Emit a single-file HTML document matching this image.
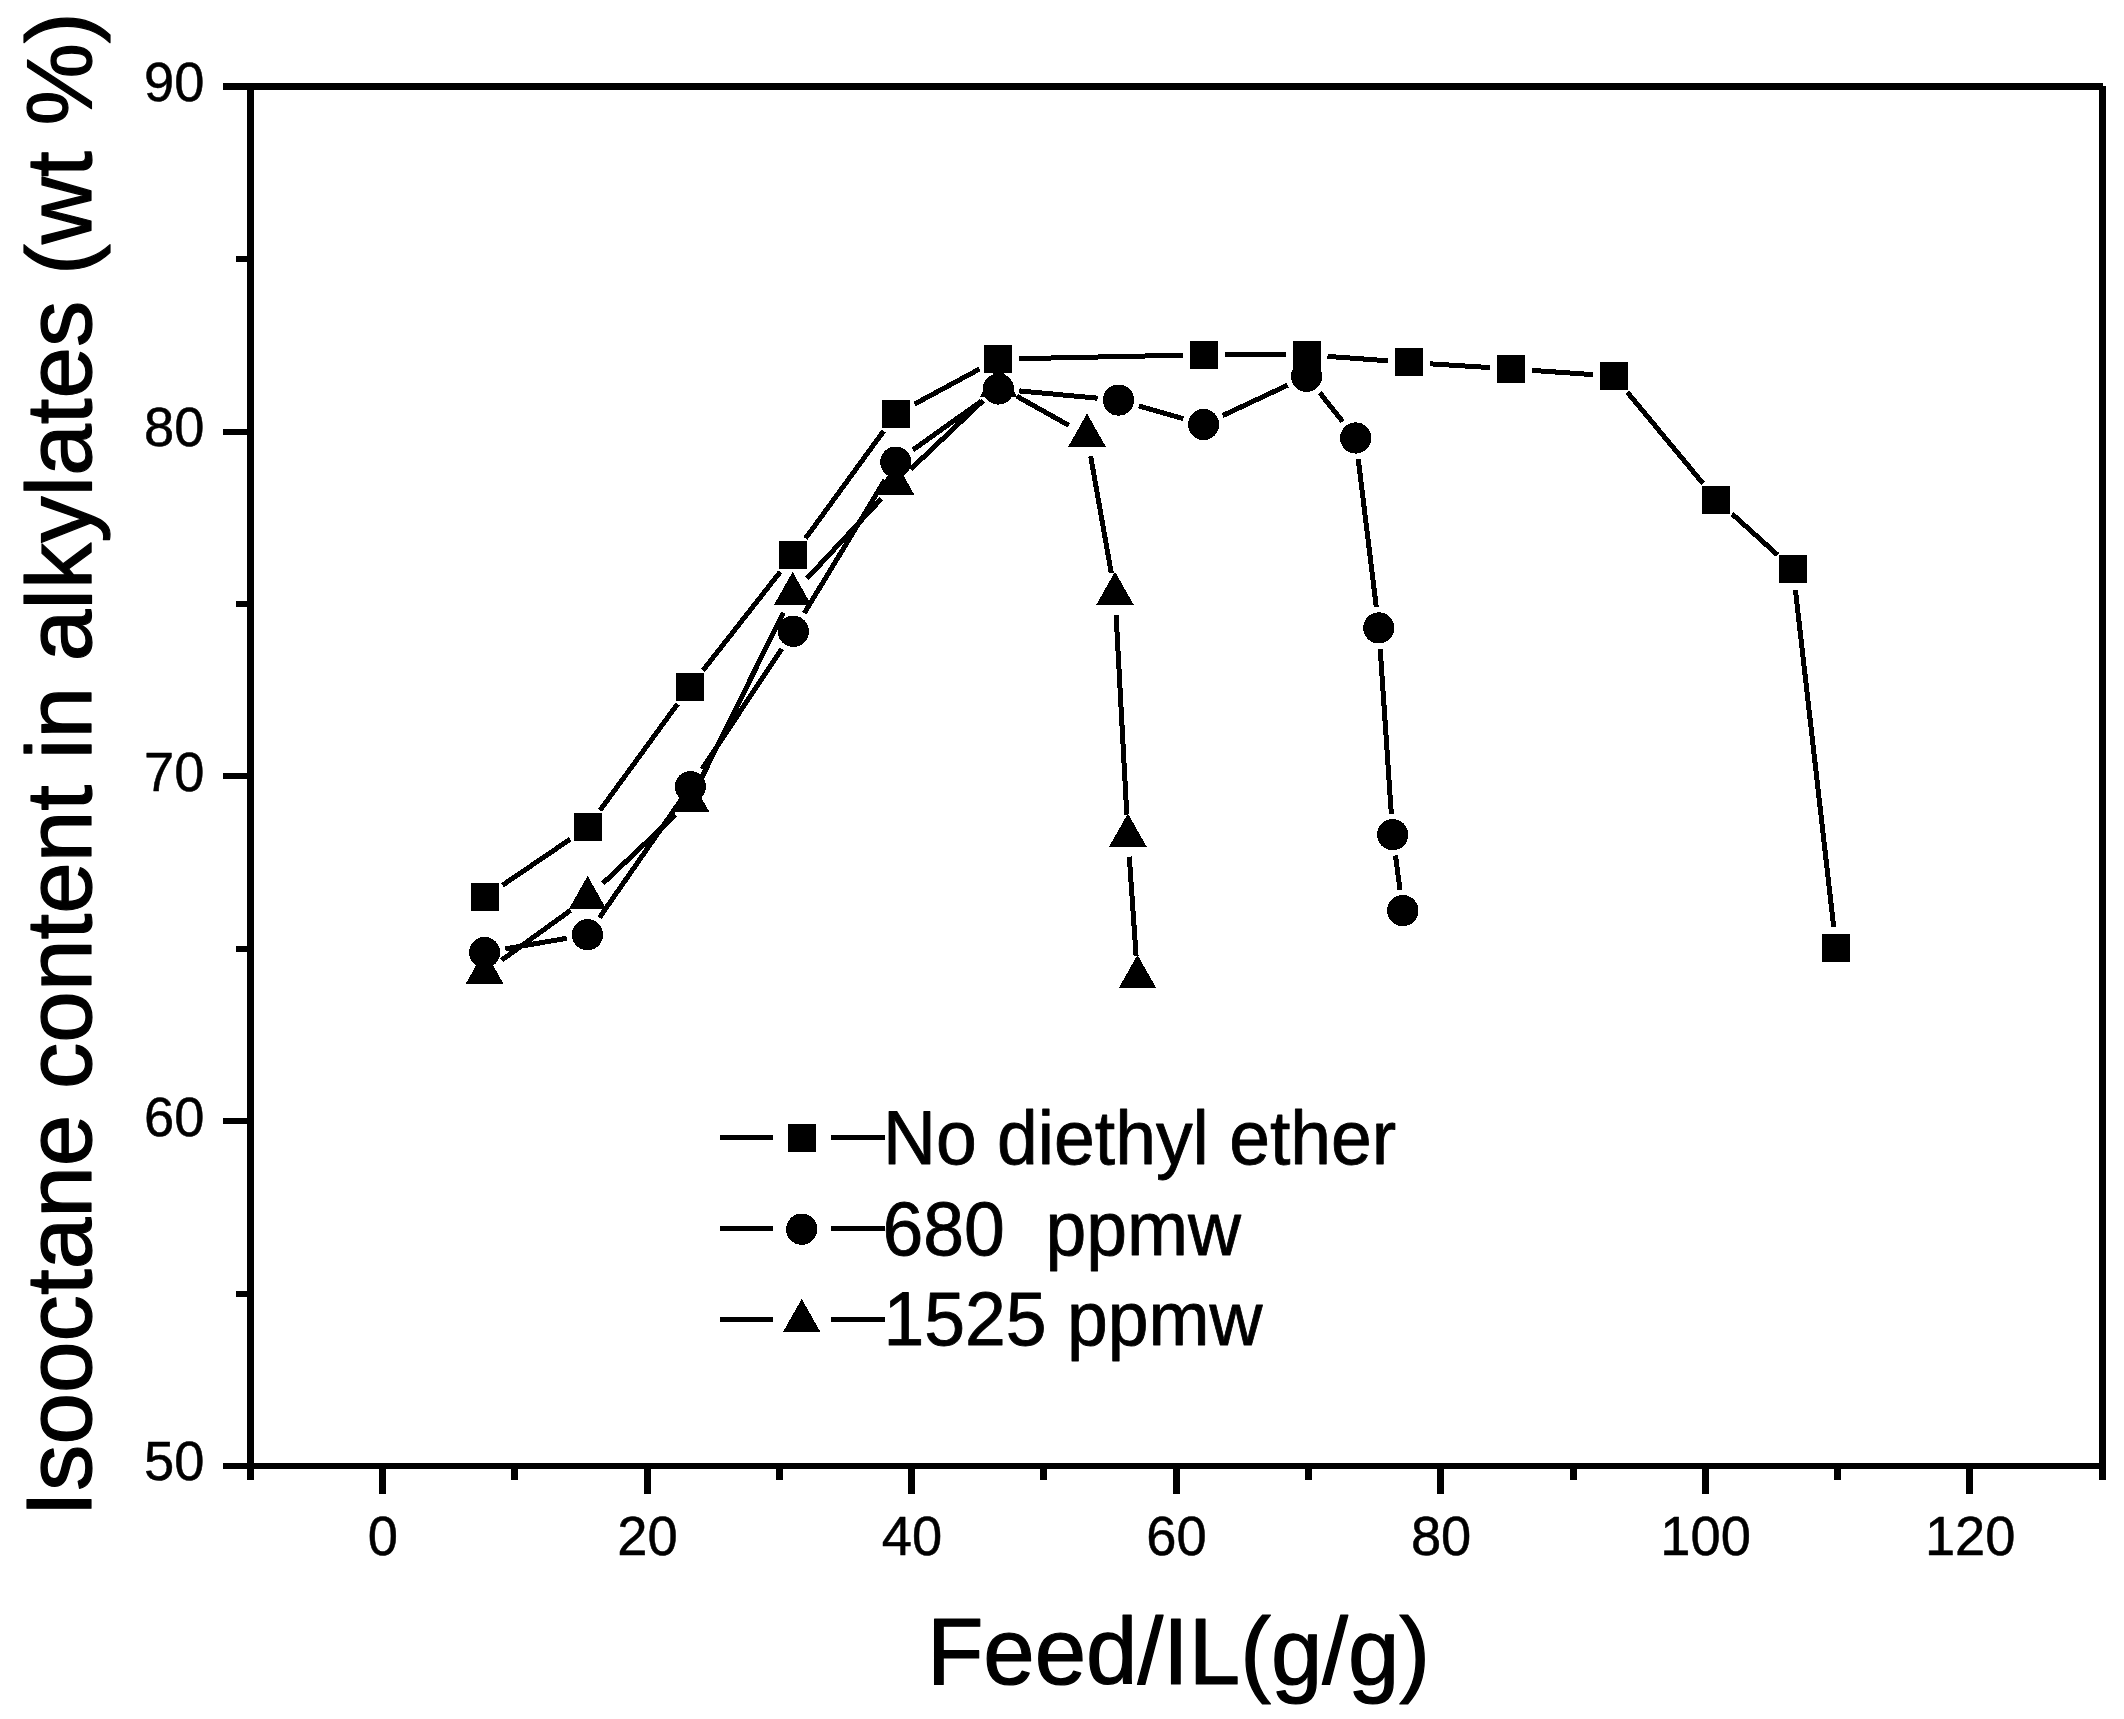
<!DOCTYPE html>
<html lang="en"><head><meta charset="utf-8"><title>Isooctane content in alkylates vs Feed/IL</title>
<style>html,body{margin:0;padding:0;background:#fff}body{width:2124px;height:1719px;overflow:hidden}</style></head>
<body>
<svg width="2124" height="1719" viewBox="0 0 2124 1719" style="display:block">
<rect width="2124" height="1719" fill="#fff"/>
<g fill="#000" shape-rendering="crispEdges">
<rect x="223" y="83" width="1880" height="7"/>
<rect x="223" y="1463" width="1883" height="6"/>
<rect x="247" y="83" width="7" height="1397"/>
<rect x="2099" y="86" width="7" height="1394"/>
<rect x="223" y="1118" width="25" height="6"/>
<rect x="223" y="773" width="25" height="6"/>
<rect x="223" y="429" width="25" height="6"/>
<rect x="236" y="1291" width="12" height="6"/>
<rect x="236" y="946" width="12" height="6"/>
<rect x="236" y="601" width="12" height="6"/>
<rect x="236" y="256" width="12" height="6"/>
<rect x="379" y="1468" width="7" height="26"/>
<rect x="644" y="1468" width="7" height="26"/>
<rect x="908" y="1468" width="7" height="26"/>
<rect x="1173" y="1468" width="7" height="26"/>
<rect x="1437" y="1468" width="7" height="26"/>
<rect x="1702" y="1468" width="7" height="26"/>
<rect x="1966" y="1468" width="7" height="26"/>
<rect x="511" y="1468" width="7" height="12"/>
<rect x="776" y="1468" width="7" height="12"/>
<rect x="1040" y="1468" width="7" height="12"/>
<rect x="1305" y="1468" width="7" height="12"/>
<rect x="1570" y="1468" width="7" height="12"/>
<rect x="1834" y="1468" width="7" height="12"/>
</g>
<g font-family="'Liberation Sans', Arial, sans-serif" fill="#000" stroke="#000" stroke-linejoin="round">
<g font-size="54.3" text-anchor="end" stroke-width="0.5">
<text transform="translate(204.5 1480.2) scale(1 1.01)">50</text>
<text transform="translate(204.5 1135.5) scale(1 1.01)">60</text>
<text transform="translate(204.5 790.7) scale(1 1.01)">70</text>
<text transform="translate(204.5 445.9) scale(1 1.01)">80</text>
<text transform="translate(204.5 101.2) scale(1 1.01)">90</text>
</g>
<g font-size="54.3" text-anchor="middle" stroke-width="0.5">
<text transform="translate(382.8 1555.2) scale(1 1.01)">0</text>
<text transform="translate(647.4 1555.2) scale(1 1.01)">20</text>
<text transform="translate(911.9 1555.2) scale(1 1.01)">40</text>
<text transform="translate(1176.5 1555.2) scale(1 1.01)">60</text>
<text transform="translate(1441.1 1555.2) scale(1 1.01)">80</text>
<text transform="translate(1705.6 1555.2) scale(1 1.01)">100</text>
<text transform="translate(1970.2 1555.2) scale(1 1.01)">120</text>
</g>
<text id="xt" transform="translate(1178.5 1684.4) scale(1 1.03)" font-size="92.4" text-anchor="middle" stroke-width="1.2">Feed/IL(g/g)</text>
<text id="yt" transform="translate(91 764.5) rotate(-90)" font-size="92.7" text-anchor="middle" stroke-width="1.2">Isooctane content in alkylates (wt %)</text>
<g font-size="73.3" stroke-width="0.8">
<text id="l1" transform="translate(883 1163.5) scale(1 1.03)">No diethyl ether</text>
<text id="l2" transform="translate(882.5 1254.8) scale(1 1.04)" xml:space="preserve">680  ppmw</text>
<text id="l3" transform="translate(883.5 1344.5) scale(1 1.04)">1525 ppmw</text>
</g>
</g>
<g stroke="#000" stroke-width="5" fill="none" shape-rendering="crispEdges">
<path d="M502.4 885.3L570.2 839.2M600.0 810.4L677.6 703.9M703.0 670.4L780.2 571.9M805.5 538.4L883.7 431.0M914.5 404.1L979.6 369.0M1019.1 358.7L1183.0 355.2M1225.0 354.8L1285.6 354.8M1327.5 356.4L1388.2 360.8M1430.1 363.8L1490.1 367.6M1532.1 370.4L1592.9 374.6M1627.3 392.2L1703.1 483.6M1732.1 513.9L1777.4 554.8M1795.4 589.8L1833.7 927.0"/>
<path d="M505.3 948.9L566.8 938.3M599.5 917.5L678.4 803.8M702.0 769.1L781.7 648.8M804.2 613.3L884.9 480.1M912.9 449.9L981.3 401.2M1019.3 390.9L1097.6 398.2M1138.7 405.9L1183.4 418.7M1222.6 415.6L1287.6 385.2M1319.7 392.7L1342.6 421.6M1358.2 458.8L1376.3 607.1M1380.2 648.9L1391.3 813.7M1395.5 855.5L1400.0 889.8"/>
<path d="M501.6 960.2L570.6 910.3M602.8 883.5L675.2 815.0M699.7 781.7L783.3 612.8M806.9 578.6L881.2 498.9M910.8 469.1L983.3 400.4M1016.9 396.3L1068.7 425.3M1090.7 456.3L1111.3 573.1M1116.1 614.8L1126.8 814.6M1129.3 856.6L1136.1 956.0"/>
</g>
<g fill="#000" shape-rendering="crispEdges">
<rect x="471" y="883" width="28" height="28"/>
<rect x="574" y="813" width="28" height="28"/>
<rect x="676" y="673" width="28" height="28"/>
<rect x="779" y="541" width="28" height="28"/>
<rect x="882" y="400" width="28" height="28"/>
<rect x="984" y="345" width="28" height="28"/>
<rect x="1190" y="341" width="28" height="28"/>
<rect x="1293" y="341" width="28" height="28"/>
<rect x="1395" y="348" width="28" height="28"/>
<rect x="1497" y="355" width="28" height="28"/>
<rect x="1600" y="362" width="28" height="28"/>
<rect x="1702" y="486" width="28" height="28"/>
<rect x="1779" y="555" width="28" height="28"/>
<rect x="1822" y="934" width="28" height="28"/>
<circle cx="484.6" cy="952.5" r="15.6"/>
<circle cx="587.5" cy="934.7" r="15.6"/>
<circle cx="690.4" cy="786.6" r="15.6"/>
<circle cx="793.3" cy="631.3" r="15.6"/>
<circle cx="895.8" cy="462.1" r="15.6"/>
<circle cx="998.4" cy="389.0" r="15.6"/>
<circle cx="1118.5" cy="400.1" r="15.6"/>
<circle cx="1203.6" cy="424.5" r="15.6"/>
<circle cx="1306.6" cy="376.3" r="15.6"/>
<circle cx="1355.7" cy="438.0" r="15.6"/>
<circle cx="1378.8" cy="627.9" r="15.6"/>
<circle cx="1392.7" cy="834.7" r="15.6"/>
<circle cx="1402.8" cy="910.6" r="15.6"/>
<path d="M484.6 950.4L503.3 983.5L465.9 983.5Z"/>
<path d="M587.6 875.9L606.3 909.0L568.9 909.0Z"/>
<path d="M690.4 778.4L709.1 811.5L671.7 811.5Z"/>
<path d="M792.6 571.9L811.3 605.0L773.9 605.0Z"/>
<path d="M895.5 461.4L914.2 494.5L876.8 494.5Z"/>
<path d="M998.6 363.9L1017.3 397.0L979.9 397.0Z"/>
<path d="M1087.0 413.5L1105.7 446.6L1068.3 446.6Z"/>
<path d="M1115.0 571.7L1133.7 604.8L1096.3 604.8Z"/>
<path d="M1127.9 813.5L1146.6 846.6L1109.2 846.6Z"/>
<path d="M1137.5 954.9L1156.2 988.0L1118.8 988.0Z"/>
</g>
<g fill="#000" shape-rendering="crispEdges">
<rect x="720" y="1135" width="53" height="5"/>
<rect x="831" y="1135" width="54" height="5"/>
<rect x="720" y="1226" width="53" height="5"/>
<rect x="831" y="1226" width="54" height="5"/>
<rect x="720" y="1317" width="53" height="5"/>
<rect x="831" y="1317" width="54" height="5"/>
<rect x="788" y="1124" width="28" height="28"/>
<circle cx="801.7" cy="1229.2" r="15.6"/>
<path d="M801.7 1298.9L820.4 1332.0L783.0 1332.0Z"/>
</g>
</svg>
</body></html>
